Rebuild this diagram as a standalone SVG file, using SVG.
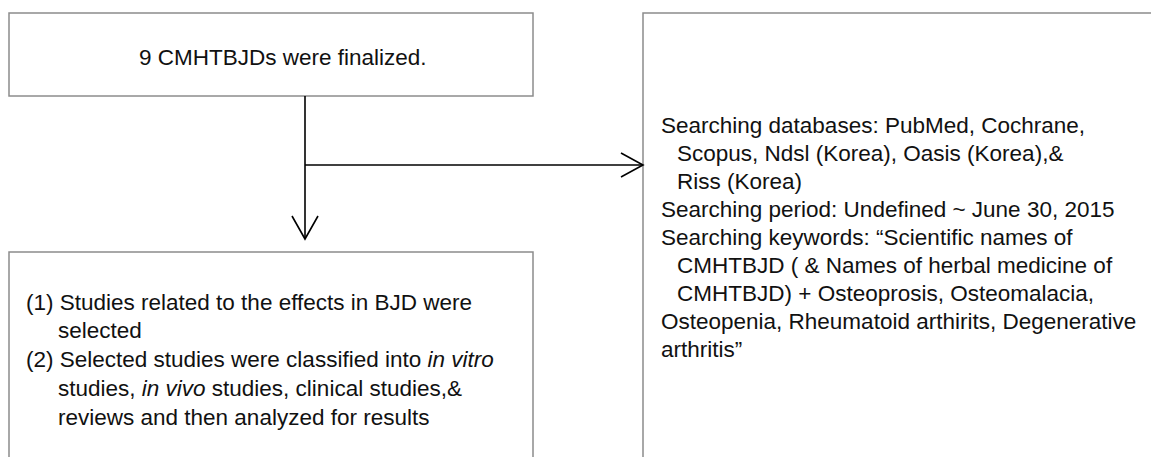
<svg xmlns="http://www.w3.org/2000/svg" width="1151" height="457" viewBox="0 0 1151 457">
<style>
.box{fill:none;stroke:#8c8c8c;stroke-width:1.5}
.conn{fill:none;stroke:#000;stroke-width:1.6}
text{font-family:"Liberation Sans",Arial,sans-serif;font-size:22.5px;fill:#111}
</style>
<rect width="1151" height="457" fill="#fff"/>
<g id="node-finalized">
<rect class="box" x="9" y="13" width="524" height="83"/>
<text x="139" y="65">9 CMHTBJDs were finalized.</text>
</g>
<g id="node-search">
<path class="box" d="M643,460 V13 H1155"/>
<text x="661" y="133">Searching databases: PubMed, Cochrane,</text>
<text x="677" y="161">Scopus, Ndsl (Korea), Oasis (Korea),&amp;</text>
<text x="677" y="189">Riss (Korea)</text>
<text x="661" y="217">Searching period: Undefined ~ June 30, 2015</text>
<text x="661" y="245">Searching keywords: “Scientific names of</text>
<text x="677" y="273">CMHTBJD ( &amp; Names of herbal medicine of</text>
<text x="677" y="301">CMHTBJD) + Osteoprosis, Osteomalacia,</text>
<text x="661" y="329">Osteopenia, Rheumatoid arthirits, Degenerative</text>
<text x="661" y="357">arthritis”</text>
</g>
<g id="node-studies">
<path class="box" d="M9,460 V252 H533 V460"/>
<text x="26" y="310">(1) Studies related to the effects in BJD were</text>
<text x="58" y="338">selected</text>
<text x="26" y="367">(2) Selected studies were classified into <tspan font-style="italic">in vitro</tspan></text>
<text x="58" y="396">studies, <tspan font-style="italic">in vivo</tspan> studies, clinical studies,&amp;</text>
<text x="58" y="425">reviews and then analyzed for results</text>
</g>
<g id="connectors">
<path class="conn" d="M305,96 V239"/>
<path class="conn" d="M292,216 L305,239 L318,216"/>
<path class="conn" d="M305,165 H643"/>
<path class="conn" d="M621,153 L643,165 L621,177"/>
</g>
</svg>
